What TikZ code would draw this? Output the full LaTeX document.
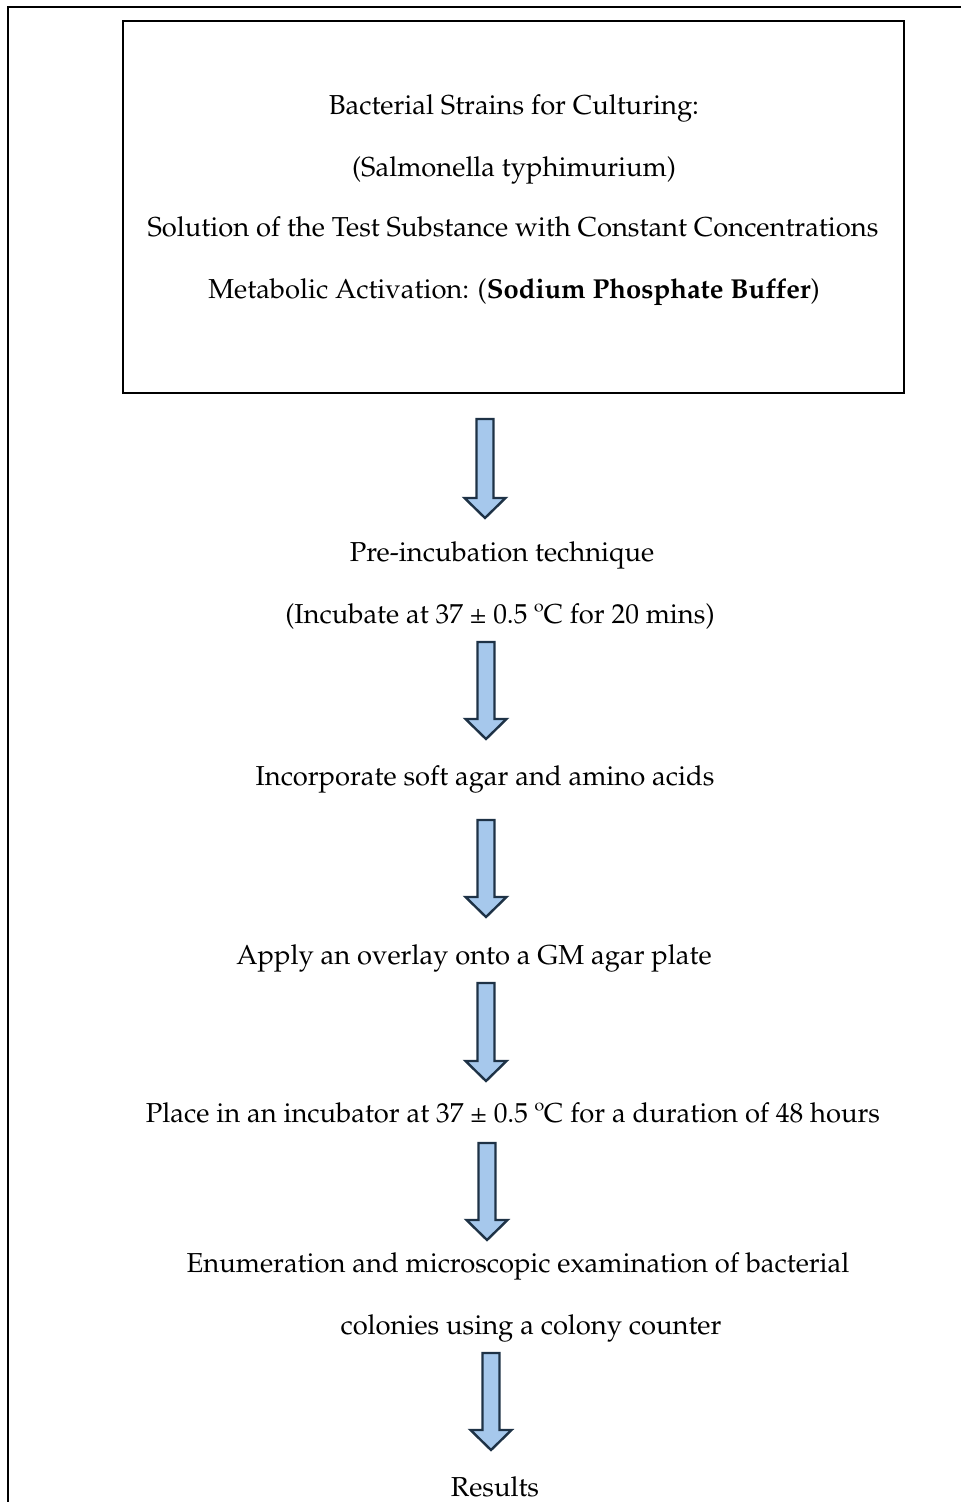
\documentclass[tikz,border=0pt]{standalone}
\usepackage[T1]{fontenc}
\usepackage{textcomp}
\usepackage{mathpazo}
\usetikzlibrary{calc}
\definecolor{arrfill}{HTML}{A6C8EC}
\definecolor{arrdraw}{HTML}{1E3246}
\tikzset{
  lbl/.style={anchor=base, inner sep=0pt, font=\fontsize{13.7}{16}\selectfont},
  blk/.style={fill=arrfill, draw=arrdraw, line width=1.2pt, line join=miter},
}
\newcommand\blkarrow[2]{%
  \draw[blk] ($(#1)+(-8.5,0)$) -- ($(#1)+(8.5,0)$) -- ($(#2)+(8.5,-20)$) -- ($(#2)+(20.5,-20)$)
    -- (#2) -- ($(#2)+(-20.5,-20)$) -- ($(#2)+(-8.5,-20)$) -- cycle;}
\begin{document}
\begin{tikzpicture}[x=0.5pt, y=-0.5pt]
\useasboundingbox (0,0) rectangle (961,1502);
% outer frame (left and top only visible)
\coordinate (fbl) at (8,1505);
\coordinate (ftl) at (8,7);
\coordinate (ftr) at (965,7);
\draw[line width=1.1pt] (fbl) -- (ftl) -- (ftr);
% top box
\node[draw, line width=1.3pt, minimum width=390.5pt, minimum height=186pt, inner sep=0pt] (box) at (513.5,207) {};
\node[lbl] (t1) at (514,115) {Bacterial Strains for Culturing:};
\node[lbl] (t2) at (514,177) {(Salmonella typhimurium)};
\node[lbl] (t3) at (513,237) {Solution of the Test Substance with Constant Concentrations};
\node[lbl] (t4) at (514,299) {Metabolic Activation: (\textbf{Sodium Phosphate Buffer})};
% steps
\node[lbl] (s1) at (502,561) {Pre-incubation technique};
\node[lbl] (s1b) at (500,623) {(Incubate at 37 \textpm\ 0.5 \textordmasculine C for 20 mins)};
\node[lbl] (s2) at (485,785) {Incorporate soft agar and amino acids};
\node[lbl] (s3) at (474,964) {Apply an overlay onto a GM agar plate};
\node[lbl] (s4) at (513,1122) {Place in an incubator at 37 \textpm\ 0.5 \textordmasculine C for a duration of 48 hours};
\node[lbl] (s5) at (518,1272) {Enumeration and microscopic examination of bacterial};
\node[lbl] (s5b) at (531,1334) {colonies using a colony counter};
\node[lbl] (s6) at (495,1496) {Results};
% arrows
\coordinate (a1s) at (485,419);  \coordinate (a1e) at (485,518);
\coordinate (a2s) at (486,642);  \coordinate (a2e) at (486,739);
\coordinate (a3s) at (486,820);  \coordinate (a3e) at (486,917);
\coordinate (a4s) at (486,983);  \coordinate (a4e) at (486,1081);
\coordinate (a5s) at (487,1143); \coordinate (a5e) at (487,1240);
\coordinate (a6s) at (491,1353); \coordinate (a6e) at (491,1450);
\blkarrow{a1s}{a1e}
\blkarrow{a2s}{a2e}
\blkarrow{a3s}{a3e}
\blkarrow{a4s}{a4e}
\blkarrow{a5s}{a5e}
\blkarrow{a6s}{a6e}
\end{tikzpicture}
\end{document}
